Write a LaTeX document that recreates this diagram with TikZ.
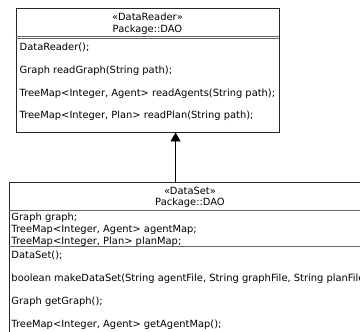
\documentclass[tikz,border=0pt]{standalone}
\usepackage{fontspec}
\setmainfont{DejaVu Sans}
\usetikzlibrary{arrows.meta}
\tikzset{
  classbox/.style={draw=black!85, line width=0.9bp, rectangle, inner sep=0pt, fill=white},
  divider/.style={draw=black!60, line width=0.8bp},
  member/.style={anchor=west, inner sep=0pt, text height=0.72em, text depth=0pt, font=\fontsize{9.9bp}{12bp}\selectfont},
  stereo/.style={anchor=center, inner sep=0pt, text height=0.72em, text depth=0pt, font=\fontsize{9.9bp}{12bp}\selectfont},
  generalize/.style={draw=black, line width=0.9bp, -{Triangle[width=10bp, length=9bp]}},
}
\begin{document}
\begin{tikzpicture}[x=1bp, y=-1bp]
\useasboundingbox (0,0) rectangle (360,332);
\clip (0,0) rectangle (360,332);

% DataReader class
\node[classbox, minimum width=263bp, minimum height=124bp] (reader) at (147.5,70) {};
\node[stereo] (readerstereo) at (147.5,17.3) {«DataReader»};
\node[stereo] (readerpkg) at (147.5,28.7) {Package::DAO};
\draw[divider] (reader.west |- 0,36) -- (reader.east |- 0,36);
\draw[divider] (reader.west |- 0,38.5) -- (reader.east |- 0,38.5);
\node[member] (rm1) at (19.5,46.7) {DataReader();};
\node[member] (rm2) at (19.5,70) {Graph readGraph(String path);};
\node[member] (rm3) at (19.5,92.7) {TreeMap<Integer, Agent> readAgents(String path);};
\node[member] (rm4) at (19.5,115) {TreeMap<Integer, Plan> readPlan(String path);};

% DataSet class
\node[classbox, minimum width=362bp, minimum height=170bp] (dataset) at (190,267) {};
\node[stereo] (datasetstereo) at (190,191) {«DataSet»};
\node[stereo] (datasetpkg) at (190,201.7) {Package::DAO};
\draw[divider] (dataset.west |- 0,210) -- (dataset.east |- 0,210);
\node[member] (da1) at (11.3,217) {Graph graph;};
\node[member] (da2) at (11.3,229) {TreeMap<Integer, Agent> agentMap;};
\node[member] (da3) at (11.3,241) {TreeMap<Integer, Plan> planMap;};
\draw[divider] (dataset.west |- 0,246) -- (dataset.east |- 0,246);
\node[member] (dm1) at (11.3,255) {DataSet();};
\node[member] (dm2) at (11.3,278) {boolean makeDataSet(String agentFile, String graphFile, String planFile);};
\node[member] (dm3) at (11.3,301) {Graph getGraph();};
\node[member] (dm4) at (11.3,324) {TreeMap<Integer, Agent> getAgentMap();};

% generalization
\path (reader.south west) ++(160,0) coordinate (tip);
\draw[generalize] (tip |- dataset.north) -- (tip);
\end{tikzpicture}
\end{document}
